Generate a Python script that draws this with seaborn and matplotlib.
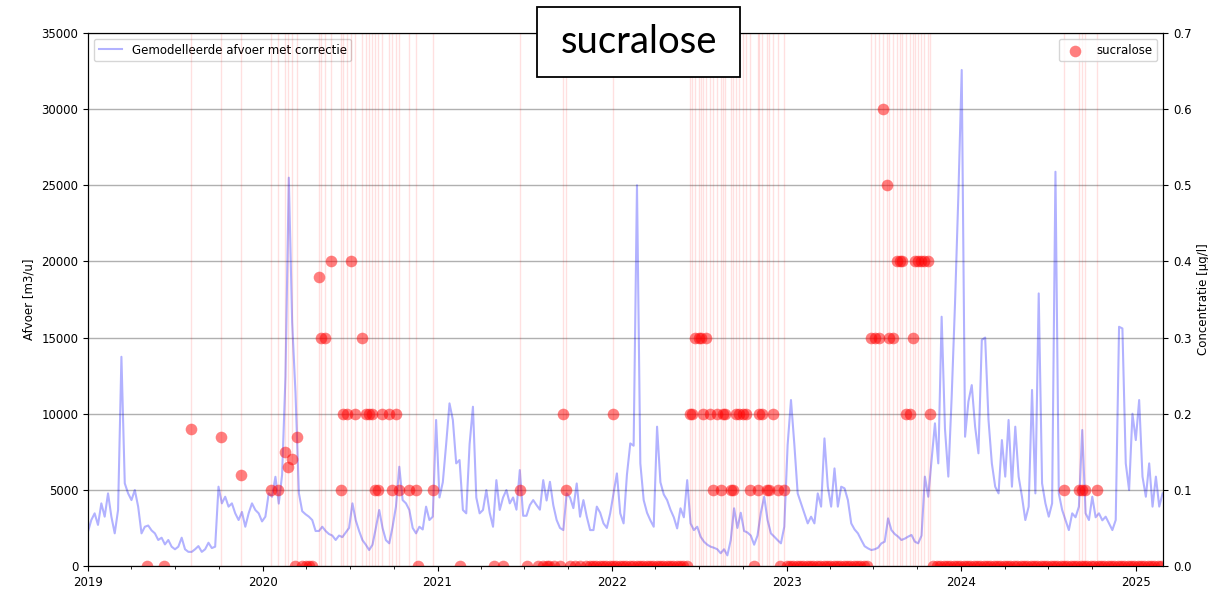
import pandas as pd
import matplotlib.pyplot as plt
import matplotlib.dates as mdates
import matplotlib.patches as patches
import seaborn as sns

# Weekly modelled discharge (m3/u), starting 2019-01-01
flow_start = '2019-01-01'
flow = [
    2250, 3020, 3460, 2700, 4115, 3240, 4770, 3240, 2145, 3680,
    13740, 5430, 4770, 4330, 4990, 3900, 2145, 2580, 2660, 2340,
    2145, 1710, 1860, 1420, 1710, 1270, 1100, 1270, 1860, 1100,
    930, 930, 1100, 1310, 930, 1100, 1530, 1180, 1270, 5210,
    4115, 4550, 3900, 4115, 3460, 3020, 3550, 2580, 3460, 4115,
    3680, 3460, 2930,
    3240, 4770, 4550, 5860, 4100, 6000, 12430, 25500, 16000, 11340,
    4800, 3600, 3400, 3240, 3020, 2300, 2300, 2580, 2300, 2100,
    2000, 1710, 2000, 1900, 2200, 2500, 4115, 3000, 2300, 1700,
    1400, 1050, 1400, 2500, 3680, 2500, 1700, 1490, 2580, 3900,
    6520, 4330, 4115, 3680, 2500, 2145, 2580, 2400, 3900, 3020,
    3240, 9590, 4500, 5500, 8000, 10680, 9590, 6740, 6960, 3680,
    3460, 8000, 10460, 4500, 3460, 3680, 4990, 3500, 2580, 5640,
    3680, 4500, 4990, 4115,
    4500, 3700, 6300, 3300, 3300, 4000, 4330, 4000, 3700, 5640,
    4300, 5530, 4000, 3020, 2500, 2360, 4770, 4500, 3800, 5420,
    3240, 4330, 3240, 2360, 2360, 3900, 3500, 2800, 2500, 3460,
    4770, 6080, 3460, 2800, 6000, 8050, 7900, 25000, 6740, 4330,
    3500, 3000, 2580, 9150, 5500, 4700, 4330, 3700, 3200, 2470,
    3790, 3200, 5640, 2800, 2360, 2580, 1930, 1600, 1400, 1270,
    1200, 1100, 840,
    1100, 700, 1700, 3790, 2500, 3500, 2300, 2200, 2000, 1400,
    2000, 3500, 4550, 3020, 2145, 1930, 1700, 1490, 2580, 7950,
    10900, 8000, 4770, 4115, 3460, 2800, 3240, 2800, 4770, 3900,
    8380, 5210, 3900, 6410, 3900, 5210, 5100, 4330, 2800, 2400,
    2145, 1710, 1300, 1160, 1050, 1100, 1200, 1490, 1600, 3130,
    2360, 2100, 1930, 1710, 1800, 1930, 2040, 1600, 1490,
    2000, 5870, 4550, 7000, 9370, 6740, 16370, 9000, 5870, 11110,
    17250, 24360, 32570, 8490, 10800, 11880, 9150, 7400, 14840, 15000,
    9590, 6740, 5210, 4770, 8270, 5870, 9590, 5210, 9150, 5870,
    4550, 3020, 3900, 11560, 4770, 17900, 5430, 4115, 3240, 4115,
    25890, 4770, 3680, 3020, 2360, 3460, 3200, 3900, 8930, 3460,
    3020, 4550, 3200, 3460, 3000, 3240, 2800, 2360, 3020, 15710,
    15600, 6740, 4990, 10000, 8270, 10900, 5870, 4550, 6740, 3900,
    5870, 3900, 4770,
]

# Samples with sucralose detected (ug/l)
pos_dates = [
    '2019-08-05', '2019-10-06', '2019-11-17',
    '2020-01-18', '2020-02-03', '2020-02-16', '2020-02-23', '2020-03-02', '2020-03-14',
    '2020-04-28', '2020-05-03', '2020-05-10', '2020-05-24', '2020-06-14', '2020-06-17',
    '2020-06-26', '2020-07-05', '2020-07-13', '2020-07-26', '2020-08-04', '2020-08-10',
    '2020-08-17', '2020-08-23', '2020-08-30', '2020-09-07', '2020-09-21', '2020-09-28',
    '2020-10-06', '2020-10-12', '2020-11-02', '2020-11-16', '2020-12-23',
    '2021-06-22', '2021-09-20', '2021-09-27', '2022-01-03',
    '2022-06-12', '2022-06-18', '2022-06-24', '2022-07-01', '2022-07-06', '2022-07-09',
    '2022-07-16', '2022-07-24', '2022-07-31', '2022-08-08', '2022-08-16', '2022-08-20',
    '2022-08-26', '2022-09-07', '2022-09-11', '2022-09-17', '2022-09-24', '2022-10-01',
    '2022-10-08', '2022-10-16', '2022-11-01', '2022-11-04', '2022-11-11', '2022-11-21',
    '2022-11-26', '2022-12-03', '2022-12-13', '2022-12-27',
    '2023-06-27', '2023-07-05', '2023-07-13', '2023-07-21', '2023-07-29', '2023-08-04',
    '2023-08-11', '2023-08-19', '2023-08-25', '2023-08-31', '2023-09-07', '2023-09-15',
    '2023-09-23', '2023-09-26', '2023-10-02', '2023-10-09', '2023-10-16', '2023-10-24',
    '2023-10-28',
    '2024-08-02', '2024-09-04', '2024-09-10', '2024-09-15', '2024-10-11',
]
pos_conc = [
    0.18, 0.17, 0.12,
    0.1, 0.1, 0.15, 0.13, 0.14, 0.17,
    0.38, 0.3, 0.3, 0.4, 0.1, 0.2,
    0.2, 0.4, 0.2, 0.3, 0.2, 0.2,
    0.2, 0.1, 0.1, 0.2, 0.2, 0.1,
    0.2, 0.1, 0.1, 0.1, 0.1,
    0.1, 0.2, 0.1, 0.2,
    0.2, 0.2, 0.3, 0.3, 0.3, 0.2,
    0.3, 0.2, 0.1, 0.2, 0.1, 0.2,
    0.2, 0.1, 0.1, 0.2, 0.2, 0.2,
    0.2, 0.1, 0.1, 0.2, 0.2, 0.1,
    0.1, 0.2, 0.1, 0.1,
    0.3, 0.3, 0.3, 0.6, 0.5, 0.3,
    0.3, 0.4, 0.4, 0.4, 0.2, 0.2,
    0.3, 0.4, 0.4, 0.4, 0.4, 0.4,
    0.2,
    0.1, 0.1, 0.1, 0.1, 0.1,
]

# Samples below detection (plotted at 0)
zero_dates = [
    '2019-05-04', '2019-06-10', '2020-03-08', '2020-03-23', '2020-03-31', '2020-04-07',
    '2020-04-13', '2020-11-21', '2021-02-16', '2021-04-30', '2021-05-18', '2021-07-06',
    '2021-07-30', '2021-08-09', '2021-08-17', '2021-08-23', '2021-09-02', '2021-09-13',
    '2021-10-04', '2021-10-15', '2021-10-25', '2022-10-25', '2022-12-19',
]
# periods with weekly sampling, all below detection
zero_periods = [
    ('2021-11-08', '2022-06-09'),
    ('2023-01-01', '2023-06-20'),
    ('2023-11-04', '2025-02-27'),
]

# Build tables
flow_df = pd.DataFrame({
    'datum': pd.date_range(flow_start, periods=len(flow), freq='7D'),
    'afvoer': flow,
})
zero_all = list(pd.to_datetime(zero_dates))
for start, end in zero_periods:
    zero_all += list(pd.date_range(start, end, freq='7D'))
samples = pd.DataFrame({
    'datum': list(pd.to_datetime(pos_dates)) + zero_all,
    'conc': pos_conc + [0.0] * len(zero_all),
})

fig = plt.figure(figsize=(12.08, 5.89), dpi=100)
ax = fig.add_axes([0.0728, 0.039, 0.89, 0.905])
ax2 = ax.twinx()

sns.lineplot(data=flow_df, x='datum', y='afvoer', ax=ax, color='blue', alpha=0.3,
             linewidth=1.5, label='Gemodelleerde afvoer met correctie', legend=False)

# vertical markers at dates with a detection
for d in pd.to_datetime(pos_dates):
    ax2.axvline(d, color='red', alpha=0.12, linewidth=1)

sns.scatterplot(data=samples, x='datum', y='conc', ax=ax2, color='red', alpha=0.5,
                s=70, linewidth=0, label='sucralose', legend=False)

ax.set_ylim(0, 35000)
ax.set_yticks(range(0, 35001, 5000))
ax2.set_ylim(0, 0.7)
ax2.set_yticks([i / 10 for i in range(8)])
ax.set_xlim(pd.Timestamp('2019-01-01'), pd.Timestamp('2025-02-26'))

ax.xaxis.set_major_locator(mdates.YearLocator())
ax.xaxis.set_major_formatter(mdates.DateFormatter('%Y'))
ax.xaxis.set_minor_locator(mdates.MonthLocator(bymonth=(4, 7, 10)))

ax.grid(axis='y', color='#b0b0b0', linewidth=1)
ax.set_axisbelow(True)
ax.set_xlabel('')
ax2.set_xlabel('')
ax.set_ylabel('Afvoer [m3/u]', fontsize=8.5)
ax2.set_ylabel('Concentratie [µg/l]', fontsize=8.5)
ax.tick_params(labelsize=8.5)
ax2.tick_params(labelsize=8.5)

ax.legend(loc='upper left', fontsize=8.5)
ax2.legend(loc='upper right', fontsize=8.5)

# title box
fig.patches.append(patches.Rectangle((0.4445, 0.8693), 0.168, 0.1188, transform=fig.transFigure,
                                     facecolor='white', edgecolor='black', linewidth=1.3, zorder=10))
fig.text(0.5286, 0.9287, 'sucralose', ha='center', va='center', fontsize=27.5,
         family='Lato', zorder=11)

fig.savefig('out.png', dpi=100)
